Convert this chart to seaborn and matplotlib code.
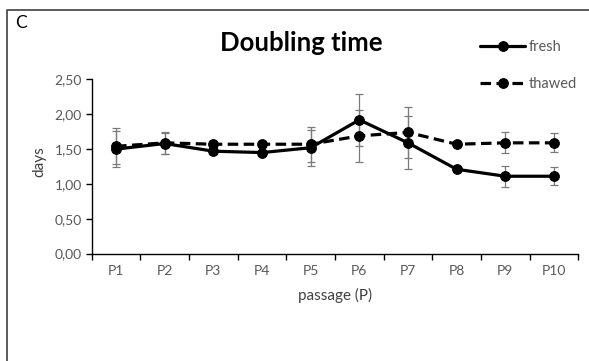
import matplotlib.pyplot as plt
import seaborn as sns
import pandas as pd
import numpy as np
from matplotlib.lines import Line2D

# values
passages = ['P1', 'P2', 'P3', 'P4', 'P5', 'P6', 'P7', 'P8', 'P9', 'P10']
fresh = [1.50, 1.58, 1.47, 1.45, 1.52, 1.92, 1.59, 1.21, 1.11, 1.11]
fresh_err = [0.26, 0.15, 0.03, 0.03, 0.26, 0.37, 0.38, 0.03, 0.15, 0.13]
thawed = [1.54, 1.59, 1.57, 1.57, 1.57, 1.69, 1.74, 1.57, 1.59, 1.59]
thawed_err = [0.26, 0.16, 0.03, 0.03, 0.25, 0.375, 0.37, 0.03, 0.15, 0.135]
yticks = [0.0, 0.5, 1.0, 1.5, 2.0, 2.5]
ytick_labels = ['0,00', '0,50', '1,00', '1,50', '2,00', '2,50']

sns.set_style("ticks")
plt.rcParams['font.family'] = ['Lato', 'DejaVu Sans']

df = pd.DataFrame({
    'passage': passages * 2,
    'days': fresh + thawed,
    'group': ['fresh'] * len(passages) + ['thawed'] * len(passages),
})

W, H = 589, 361
fig = plt.figure(figsize=(W / 100, H / 100), dpi=100)
ax = fig.add_axes([91.7 / W, 1 - 253.5 / H, 486.6 / W, 174 / H])

sns.lineplot(data=df, x='passage', y='days', style='group', color='black',
             markers={'fresh': 'o', 'thawed': 'o'},
             dashes={'fresh': '', 'thawed': (3.3, 1.7)},
             markersize=7, linewidth=2.3, markeredgecolor='black',
             sort=False, ax=ax, zorder=3)

# error bars
ax.errorbar(passages, fresh, yerr=fresh_err, fmt='none', ecolor='#7a7a7a',
            elinewidth=0.9, capsize=2.6, capthick=0.9, zorder=2)
ax.errorbar(passages, thawed, yerr=thawed_err, fmt='none', ecolor='#7a7a7a',
            elinewidth=0.9, capsize=2.6, capthick=0.9, zorder=2)

# axes styling (Excel look: ticks between categories)
n = len(passages)
ax.set_xlim(-0.5, n - 0.5)
ax.set_xticks(np.arange(n + 1) - 0.5)
ax.set_xticklabels([''] * (n + 1))
ax.set_xticks(np.arange(n), minor=True)
ax.set_xticklabels(passages, minor=True)
ax.tick_params(axis='x', which='major', length=4, width=1, color='black', direction='out')
ax.tick_params(axis='x', which='minor', length=0, pad=8.5, labelsize=10, labelcolor='#595959')

ax.set_ylim(0, 2.5)
ax.set_yticks(yticks)
ax.set_yticklabels(ytick_labels)
ax.tick_params(axis='y', length=4, width=1, color='black', direction='out', pad=3,
               labelsize=10, labelcolor='#595959')

sns.despine(ax=ax)
for side in ['left', 'bottom']:
    ax.spines[side].set_color('black')
    ax.spines[side].set_linewidth(1)

ax.set_xlabel('passage (P)', fontsize=11, color='#404040')
ax.xaxis.set_label_coords(0.5, -0.2)
ax.set_ylabel('days', fontsize=11, color='#404040')
ax.yaxis.set_label_coords(-0.093, 0.53)

# legend top right
sns.move_legend(ax, 'upper left', bbox_to_anchor=(480 / W, 1 - 40 / H),
                bbox_transform=fig.transFigure, title=None, frameon=False,
                borderpad=0, borderaxespad=0, handlelength=3.1,
                handletextpad=0.25, labelspacing=1.6, fontsize=10.5,
                labelcolor='#595959')

fig.text(301.7 / W, 1 - 51 / H, 'Doubling time', ha='center', va='baseline',
         fontsize=18.5, fontweight='bold', color='black')
fig.text(15 / W, 1 - 28.5 / H, 'C', ha='left', va='baseline', fontsize=12.5, color='black')

# panel frame (top and left edges only)
fig.add_artist(Line2D([6.7 / W, 6.7 / W, 1], [0, 1 - 9.5 / H, 1 - 9.5 / H],
                      transform=fig.transFigure, color='#404040', lw=1.2))

fig.savefig('out.png', dpi=100)
